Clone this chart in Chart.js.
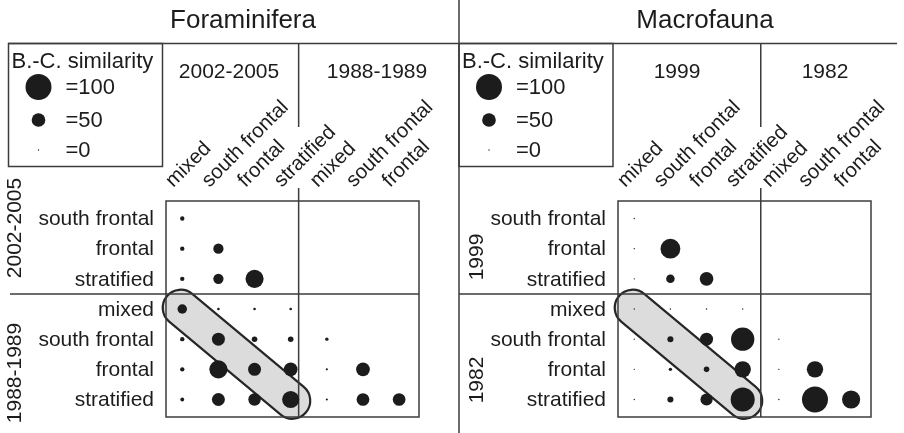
<!DOCTYPE html>
<html>
<head>
<meta charset="utf-8">
<script src="https://cdn.jsdelivr.net/npm/chart.js@4.4.0/dist/chart.umd.min.js"></script>
<style>
  body { margin: 0; background: #fff; }
  #wrap { display: flex; width: 904px; height: 433px; }
  canvas { display: block; }
</style>
</head>
<body>
<div id="wrap">
  <canvas id="foram-chart" width="452" height="433"></canvas>
  <canvas id="macro-chart" width="452" height="433"></canvas>
</div>
<script>
// rows / columns of the similarity matrix (lower triangle)
const rowLabels = ['south frontal', 'frontal', 'stratified', 'mixed', 'south frontal', 'frontal', 'stratified'];
const colLabels = ['mixed', 'south frontal', 'frontal', 'stratified', 'mixed', 'south frontal', 'frontal'];

const foramGroups = ['2002-2005', '1988-1989'];
const macroGroups = ['1999', '1982'];

// Bray-Curtis similarity, one array per row
const foramValues = [
  [12],
  [12, 36],
  [12, 36, 68],
  [33, 5, 5, 5],
  [12, 47, 17, 17, 8],
  [12, 68, 47, 50, 3, 50],
  [10, 47, 45, 64, 3, 46, 46]
];
const macroValues = [
  [0],
  [0, 75],
  [0, 29, 50],
  [0, 0, 0, 0],
  [0, 19, 47, 89, 0],
  [0, 8, 17, 61, 0, 61],
  [0, 19, 44, 92, 0, 100, 68]
];

const legendValues = [100, 50, 0];

const FONT = '"Liberation Sans", Arial, sans-serif';
const INK = '#1c1c1c';
const LINE = '#3c3c3c';

function bubbleSize(v) {
  return 0.7 + v * 0.123;
}

function matrixToPoints(matrix) {
  let points = [];
  matrix.forEach((row, i) => {
    row.forEach((v, j) => points.push({ x: j, y: i, r: bubbleSize(v) }));
  });
  return points;
}

const panelPlugin = {
  id: 'panel',
  beforeDatasetsDraw(chart, args, opts) {
    const ctx = chart.ctx;
    const xs = chart.scales.x, ys = chart.scales.y;
    const area = chart.chartArea;

    // grey capsule along the diagonal (same station, different period)
    let x1 = xs.getPixelForValue(0), y1 = ys.getPixelForValue(3);
    let x2 = xs.getPixelForValue(3), y2 = ys.getPixelForValue(6);
    const ang = Math.atan2(y2 - y1, x2 - x1);
    const R = 18, ext = 2;
    x1 -= ext * Math.cos(ang); y1 -= ext * Math.sin(ang);
    x2 += ext * Math.cos(ang); y2 += ext * Math.sin(ang);
    ctx.save();
    ctx.beginPath();
    ctx.arc(x2, y2, R, ang - Math.PI / 2, ang + Math.PI / 2);
    ctx.arc(x1, y1, R, ang + Math.PI / 2, ang + 3 * Math.PI / 2);
    ctx.closePath();
    ctx.fillStyle = '#dcdcdc';
    ctx.fill();
    ctx.lineWidth = 2.2;
    ctx.strokeStyle = '#262626';
    ctx.stroke();
    ctx.restore();

    ctx.save();
    ctx.strokeStyle = LINE;
    ctx.lineWidth = 1.5;
    // matrix box
    ctx.strokeRect(area.left, area.top, area.right - area.left, area.bottom - area.top);
    // period split
    const splitY = ys.getPixelForValue(2.5);
    const splitX = xs.getPixelForValue(opts.splitCol);
    ctx.beginPath();
    ctx.moveTo(opts.dividerX0, splitY);
    ctx.lineTo(area.right, splitY);
    ctx.moveTo(splitX, 188);
    ctx.lineTo(splitX, area.bottom);
    ctx.moveTo(splitX, 44);
    ctx.lineTo(splitX, 127);
    // top rule
    ctx.moveTo(opts.ruleX0, 43.5);
    ctx.lineTo(opts.ruleX1, 43.5);
    if (opts.sepX !== null) {
      ctx.moveTo(opts.sepX, 0);
      ctx.lineTo(opts.sepX, chart.height);
    }
    ctx.stroke();
    // legend box
    ctx.strokeRect(opts.legendX, 43.5, 154, 123);
    ctx.restore();
  },
  afterDraw(chart, args, opts) {
    const ctx = chart.ctx;
    const xs = chart.scales.x, ys = chart.scales.y;
    const area = chart.chartArea;
    ctx.save();
    ctx.fillStyle = INK;

    // title
    ctx.font = '26px ' + FONT;
    ctx.textAlign = 'center';
    ctx.textBaseline = 'middle';
    ctx.fillText(opts.title, opts.titleX, 21);

    // column group headers
    ctx.font = '21px ' + FONT;
    opts.groups.forEach((g, i) => ctx.fillText(g, opts.headX[i], 72));

    // row group labels (vertical)
    opts.groups.forEach((g, i) => {
      ctx.save();
      ctx.translate(opts.groupX, opts.groupY[i]);
      ctx.rotate(-Math.PI / 2);
      ctx.fillText(g, 0, 0);
      ctx.restore();
    });

    // row labels
    ctx.textAlign = 'right';
    rowLabels.forEach((lab, i) => {
      ctx.fillText(lab, area.left - 12, ys.getPixelForValue(i) + 1);
    });

    // column labels, tilted
    ctx.textAlign = 'left';
    ctx.font = '20.5px ' + FONT;
    colLabels.forEach((lab, j) => {
      ctx.save();
      ctx.translate(xs.getPixelForValue(j) - 13, 184);
      ctx.rotate(-Math.PI / 4);
      ctx.fillText(lab, 0, 0);
      ctx.restore();
    });

    // size legend
    const lx = opts.legendX;
    ctx.font = '22px ' + FONT;
    ctx.fillText('B.-C. similarity', lx + 3, 62);
    const legY = [87, 120, 150];
    legendValues.forEach((v, i) => {
      ctx.beginPath();
      ctx.arc(lx + 30, legY[i], bubbleSize(v), 0, Math.PI * 2);
      ctx.fill();
      ctx.fillText('=' + v, lx + 57, legY[i] + 1);
    });
    ctx.restore();
  }
};

function makeChart(id, values, panel) {
  return new Chart(document.getElementById(id), {
    type: 'bubble',
    data: {
      datasets: [{
        data: matrixToPoints(values),
        backgroundColor: INK,
        borderWidth: 0,
        hoverRadius: 0
      }]
    },
    options: {
      responsive: false,
      animation: false,
      events: [],
      layout: {
        autoPadding: false,
        padding: { left: 166, right: 33, top: 201, bottom: 16 }
      },
      scales: {
        x: { type: 'linear', min: -0.45, max: 6.55, display: false },
        y: { type: 'linear', min: -0.58, max: 6.58, reverse: true, display: false }
      },
      plugins: {
        legend: { display: false },
        tooltip: { enabled: false },
        panel: panel
      }
    },
    plugins: [panelPlugin]
  });
}

makeChart('foram-chart', foramValues, {
  title: 'Foraminifera',
  titleX: 243,
  groups: foramGroups,
  headX: [229, 377],
  groupX: 15,
  groupY: [228, 373],
  splitCol: 3.22,
  dividerX0: 10,
  ruleX0: 8,
  ruleX1: 452,
  sepX: null,
  legendX: 8.5
});

makeChart('macro-chart', macroValues, {
  title: 'Macrofauna',
  titleX: 253,
  groups: macroGroups,
  headX: [225, 373],
  groupX: 25,
  groupY: [257, 380],
  splitCol: 3.5,
  dividerX0: 7,
  ruleX0: 0,
  ruleX1: 445,
  sepX: 7,
  legendX: 7
});
</script>
</body>
</html>
